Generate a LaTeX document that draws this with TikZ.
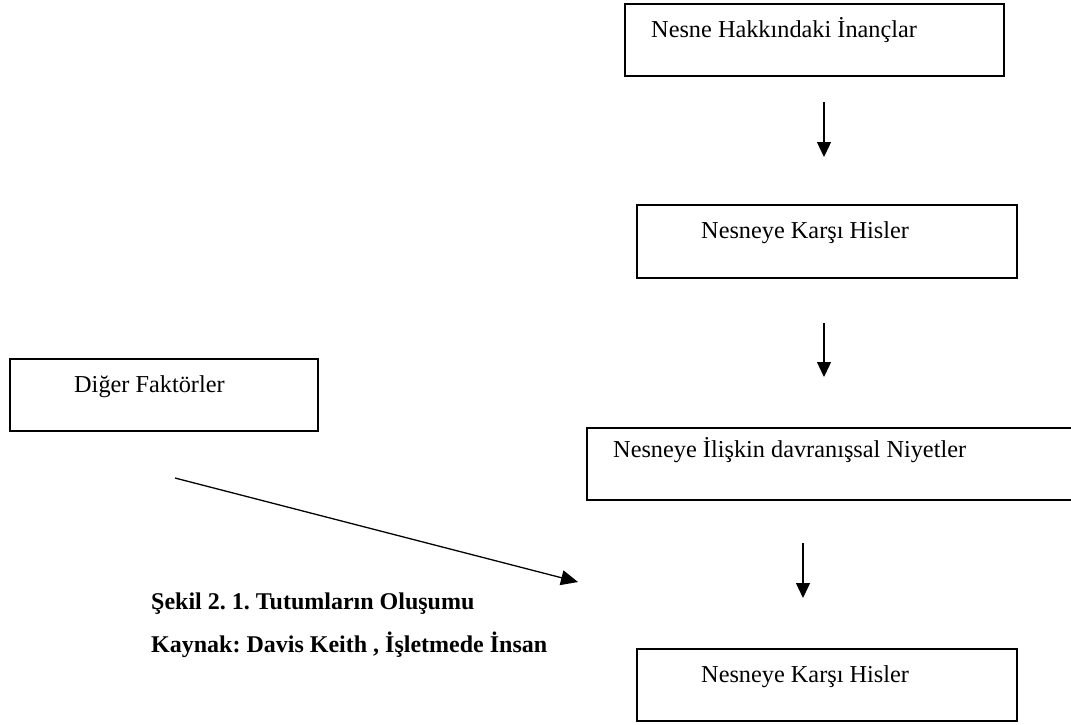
\documentclass[tikz,border=0pt]{standalone}
\usepackage{fontspec}
\setmainfont{Liberation Serif}
\usetikzlibrary{arrows.meta}
\frenchspacing
\begin{document}
\begin{tikzpicture}[x=1pt,y=-1pt,
  box/.style={draw, line width=1.6pt, rectangle, inner sep=0pt, anchor=north west},
  lbl/.style={anchor=base west, inner sep=0pt, font=\fontsize{24.3}{28}\selectfont},
  captext/.style={anchor=base west, inner sep=0pt, font=\fontsize{24}{28}\selectfont\bfseries},
  arr/.style={line width=1.3pt, -{Triangle[width=14pt,length=15pt]}}]
\useasboundingbox (0,0) rectangle (1071,724);

% boxes
\node[box, minimum width=379pt, minimum height=72pt] (b1) at (624,3) {};
\node[box, minimum width=380pt, minimum height=73pt] (b2) at (636,204) {};
\node[box, minimum width=308pt, minimum height=72pt] (b3) at (9,358) {};
\node[box, minimum width=494pt, minimum height=72pt] (b4) at (586,427) {};
\node[box, minimum width=380pt, minimum height=72pt] (b5) at (636,648) {};

% box texts
\node[lbl] (t1) at (651,37) {Nesne Hakkındaki İnançlar};
\node[lbl] (t2) at (701,238) {Nesneye Karşı Hisler};
\node[lbl] (t3) at (74,392) {Diğer Faktörler};
\node[lbl] (t4) at (613,457) {Nesneye İlişkin davranışsal Niyetler};
\node[lbl] (t5) at (701,682) {Nesneye Karşı Hisler};

% caption
\node[captext] (c1) at (151,609) {Şekil 2. 1. Tutumların Oluşumu};
\node[captext] (c2) at (151,652) {Kaynak: Davis Keith , İşletmede İnsan};

% arrow end points
\coordinate (a1s) at (824,102);
\coordinate (a1e) at (824,157);
\coordinate (a2s) at (824,323);
\coordinate (a2e) at (824,377);
\coordinate (a3s) at (803,543);
\coordinate (a3e) at (803,598);
\coordinate (d1) at (175,478);
\coordinate (d2) at (578,582);

\draw[arr] (a1s) -- (a1e);
\draw[arr] (a2s) -- (a2e);
\draw[arr] (a3s) -- (a3e);
\draw[arr, -{Triangle[width=15pt,length=17pt]}] (d1) -- (d2);
\end{tikzpicture}
\end{document}
